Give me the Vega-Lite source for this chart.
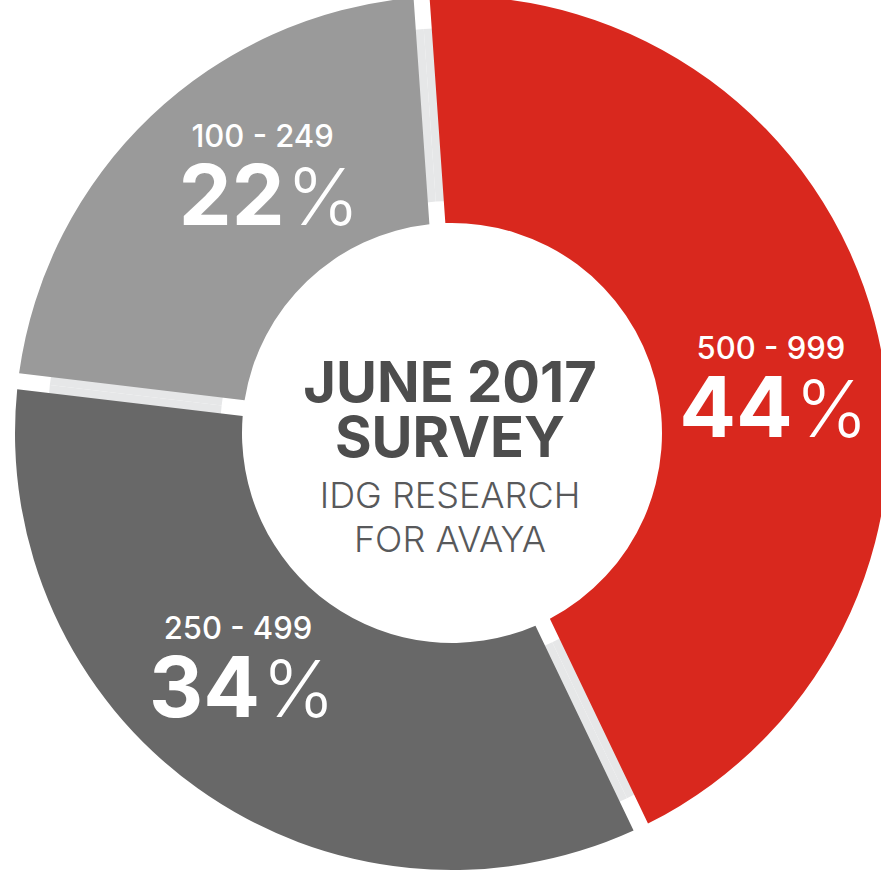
{
  "$schema": "https://vega.github.io/schema/vega-lite/v6.json",
  "width": 858,
  "height": 866,
  "autosize": {"type": "none"},
  "padding": {"left": 23, "top": 0, "right": 0, "bottom": 19},
  "background": "white",
  "config": {"view": {"stroke": null}},
  "datasets": {
    "shares": [
      {"size": "500 - 999", "pct": 44},
      {"size": "250 - 499", "pct": 34},
      {"size": "100 - 249", "pct": 22}
    ],
    "survey": [
      {"line1": "JUNE 2017", "line2": "SURVEY", "line3": "IDG RESEARCH", "line4": "FOR AVAYA"}
    ]
  },
  "layer": [
    {
      "data": {"name": "shares"},
      "mark": {"type": "arc", "radius": 405, "radius2": 232, "color": "#e6e7e8"},
      "encoding": {
        "theta": {"field": "pct", "type": "quantitative", "stack": true, "scale": {"range": [-0.0698, 6.2134]}},
        "order": {"field": "size", "sort": "descending"}
      }
    },
    {
      "data": {"name": "shares"},
      "mark": {"type": "arc", "radius": 437, "radius2": 210, "padAngle": 0.033},
      "encoding": {
        "theta": {"field": "pct", "type": "quantitative", "stack": true, "scale": {"range": [-0.0698, 6.2134]}},
        "order": {"field": "size", "sort": "descending"},
        "color": {
          "field": "size",
          "type": "nominal",
          "scale": {"domain": ["500 - 999", "250 - 499", "100 - 249"], "range": ["#d9281e", "#686868", "#9a9a9a"]},
          "legend": null
        }
      }
    },
    {
      "data": {"name": "shares"},
      "mark": {"type": "text", "radius": 320, "font": "Inter", "fontWeight": 500, "fontSize": 31, "fill": "white", "align": "center", "baseline": "alphabetic", "dx": 2, "dy": -30},
      "encoding": {
        "theta": {"field": "pct", "type": "quantitative", "stack": true, "scale": {"range": [0.05, 6.3332]}},
        "order": {"field": "size", "sort": "descending"},
        "text": {"field": "size"}
      }
    },
    {
      "data": {"name": "shares"},
      "mark": {"type": "text", "radius": 320, "font": "Inter", "fontWeight": 700, "fontSize": 84, "fill": "white", "align": "right", "baseline": "alphabetic", "dx": 24, "dy": 48},
      "encoding": {
        "theta": {"field": "pct", "type": "quantitative", "stack": true, "scale": {"range": [0.05, 6.3332]}},
        "order": {"field": "size", "sort": "descending"},
        "text": {"field": "pct", "type": "quantitative", "format": "d"}
      }
    },
    {
      "data": {"name": "shares"},
      "mark": {"type": "text", "radius": 320, "font": "Inter", "fontWeight": 300, "fontSize": 78, "fill": "white", "align": "left", "baseline": "alphabetic", "dx": 26, "dy": 48},
      "encoding": {
        "theta": {"field": "pct", "type": "quantitative", "stack": true, "scale": {"range": [0.05, 6.3332]}},
        "order": {"field": "size", "sort": "descending"},
        "text": {"value": "%"}
      }
    },
    {
      "data": {"name": "survey"},
      "mark": {"type": "text", "font": "Inter", "fontWeight": 700, "fontSize": 56, "fill": "#4d4d4d", "align": "center", "baseline": "alphabetic", "dx": -2, "dy": -31},
      "encoding": {"text": {"field": "line1"}}
    },
    {
      "data": {"name": "survey"},
      "mark": {"type": "text", "font": "Inter", "fontWeight": 700, "fontSize": 56, "fill": "#4d4d4d", "align": "center", "baseline": "alphabetic", "dx": -2, "dy": 24},
      "encoding": {"text": {"field": "line2"}}
    },
    {
      "data": {"name": "survey"},
      "mark": {"type": "text", "font": "Inter", "fontWeight": 300, "fontSize": 36, "fill": "#58595b", "align": "center", "baseline": "alphabetic", "dx": -2, "dy": 75},
      "encoding": {"text": {"field": "line3"}}
    },
    {
      "data": {"name": "survey"},
      "mark": {"type": "text", "font": "Inter", "fontWeight": 300, "fontSize": 36, "fill": "#58595b", "align": "center", "baseline": "alphabetic", "dx": -2, "dy": 119},
      "encoding": {"text": {"field": "line4"}}
    }
  ],
  "resolve": {"scale": {"theta": "independent"}}
}
